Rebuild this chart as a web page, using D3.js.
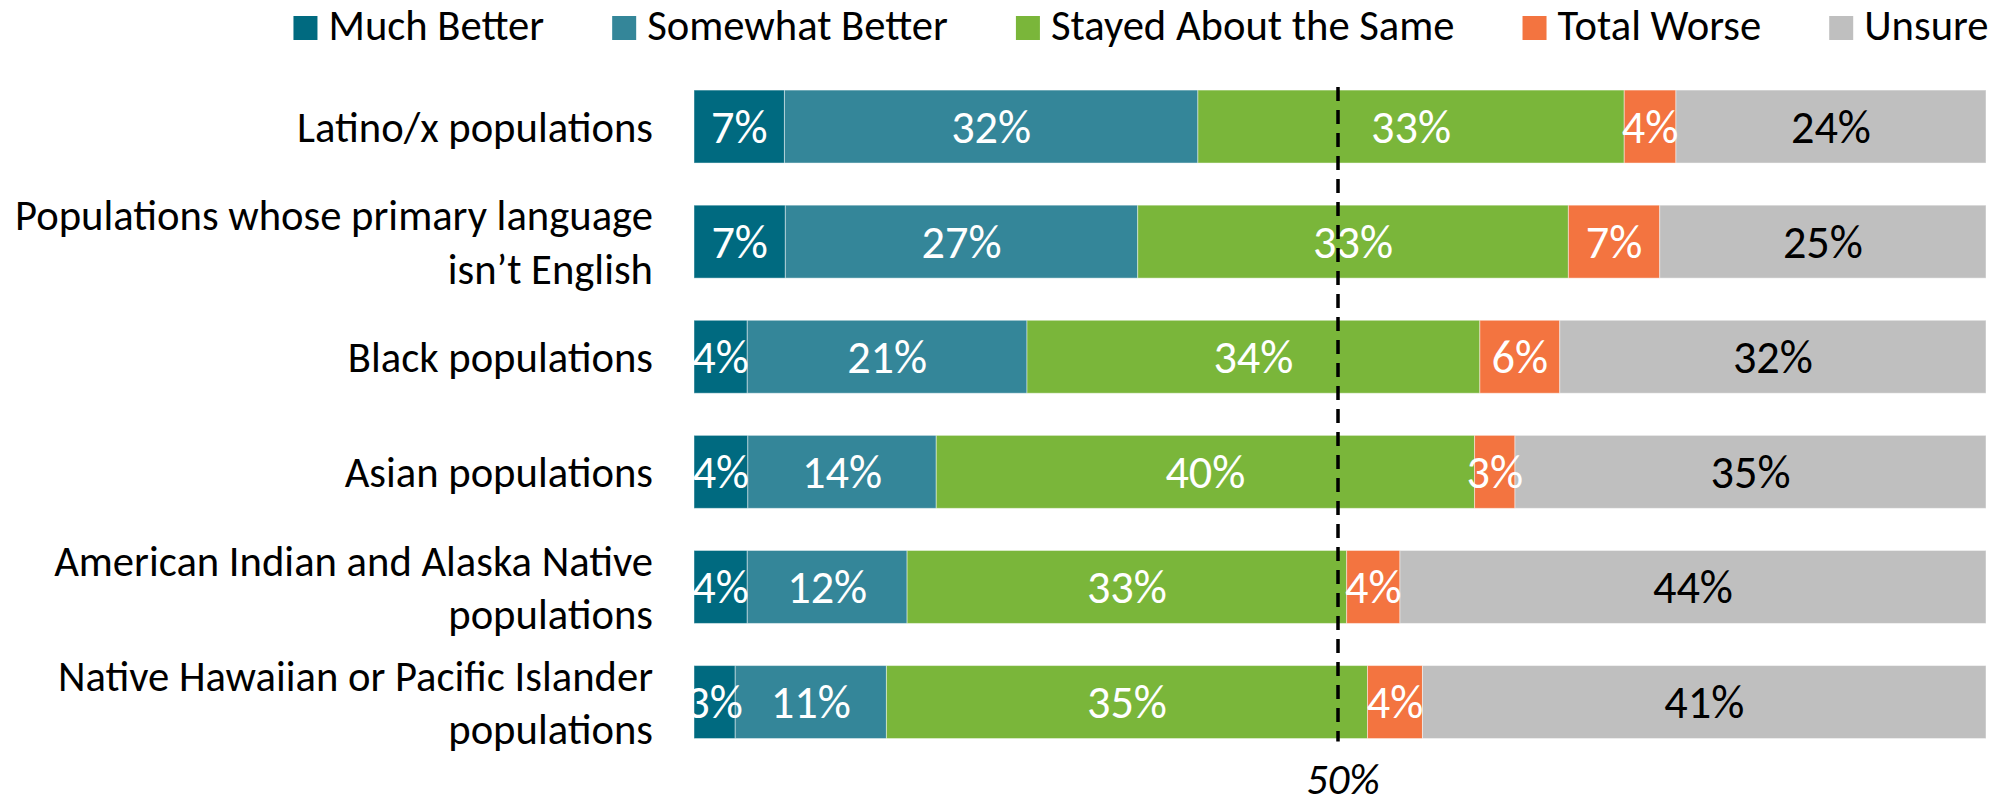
<!DOCTYPE html>
<html>
<head>
<meta charset="utf-8">
<script src="https://cdn.jsdelivr.net/npm/d3@7"></script>
<style>
  body { margin: 0; background: #ffffff; }
  svg { display: block; }
</style>
</head>
<body>
<script>
// chart data
var categories = ["Latino/x populations",
  "Populations whose primary language isn’t English",
  "Black populations",
  "Asian populations",
  "American Indian and Alaska Native populations",
  "Native Hawaiian or Pacific Islander populations"];
// where the long labels wrap
var labelLines = [["Latino/x populations"],
  ["Populations whose primary language", "isn’t English"],
  ["Black populations"],
  ["Asian populations"],
  ["American Indian and Alaska Native", "populations"],
  ["Native Hawaiian or Pacific Islander", "populations"]];

var seriesNames = ["Much Better", "Somewhat Better", "Stayed About the Same", "Total Worse", "Unsure"];
var muchBetter = [7, 7, 4, 4, 4, 3];
var somewhatBetter = [32, 27, 21, 14, 12, 11];
var stayedSame = [33, 33, 34, 40, 33, 35];
var totalWorse = [4, 7, 6, 3, 4, 4];
var unsure = [24, 25, 32, 35, 44, 41];
var refValue = 0.5; // dashed 50% line
var refLabel = "50%";

var colors = ["#006a80", "#348699", "#7ab63a", "#f37440", "#bfbfbf"];
var labelColors = ["#ffffff", "#ffffff", "#ffffff", "#ffffff", "#000000"];

var W = 2003, H = 805;
var svg = d3.select("body").append("svg")
    .attr("width", W)
    .attr("height", H);

var fontFam = "Carlito, Calibri, Lato, 'Open Sans', sans-serif";

// size the fonts so text is about as wide as in the original
var probe = svg.append("text")
    .style("font-family", fontFam)
    .style("font-size", "42px")
    .text("Latino/x populations");
var fs = 42 * 356 / probe.node().getComputedTextLength();
probe.text("32%");
var vfs = 42 * 80 / probe.node().getComputedTextLength(); // value labels are a bit bigger
probe.remove();

// table for the stack
var table = categories.map(function (c, i) {
  return {cat: c, "Much Better": muchBetter[i], "Somewhat Better": somewhatBetter[i],
    "Stayed About the Same": stayedSame[i], "Total Worse": totalWorse[i], "Unsure": unsure[i]};
});

var stacked = d3.stack()
    .keys(seriesNames)
    .offset(d3.stackOffsetExpand)(table);

var x = d3.scaleLinear().domain([0, 1]).range([694, 1986]);
var y = d3.scaleBand()
    .domain(categories)
    .range([69, 759.6])
    .paddingInner(0.366)
    .paddingOuter(0.183);

// bars
var layers = svg.append("g").selectAll("g")
    .data(stacked)
    .join("g")
    .attr("fill", function (d, i) { return colors[i]; });

layers.selectAll("rect")
    .data(function (d) { return d; })
    .join("rect")
    .attr("x", function (d) { return x(d[0]); })
    .attr("y", function (d) { return y(d.data.cat); })
    .attr("width", function (d) { return x(d[1]) - x(d[0]); })
    .attr("height", y.bandwidth())
    .attr("stroke", "#ffffff")
    .attr("stroke-opacity", 0.45)
    .attr("stroke-width", 1);

// value labels (the original numbers, not the expanded ones)
var valueLists = [muchBetter, somewhatBetter, stayedSame, totalWorse, unsure];
stacked.forEach(function (layer, si) {
  svg.append("g").selectAll("text")
      .data(layer)
      .join("text")
      .attr("x", function (d) { return (x(d[0]) + x(d[1])) / 2; })
      .attr("y", function (d) { return y(d.data.cat) + y.bandwidth() / 2; })
      .attr("dy", "0.35em")
      .attr("text-anchor", "middle")
      .style("font-family", fontFam)
      .style("font-size", vfs + "px")
      .style("fill", labelColors[si])
      .text(function (d, i) { return valueLists[si][i] + "%"; });
});

// category labels
var lh = 1.25 * fs;
categories.forEach(function (c, i) {
  var lines = labelLines[i];
  var cy = y(c) + y.bandwidth() / 2;
  var t = svg.append("text")
      .attr("text-anchor", "end")
      .style("font-family", fontFam)
      .style("font-size", fs + "px")
      .style("fill", "#000000");
  lines.forEach(function (ln, k) {
    t.append("tspan")
        .attr("x", 653)
        .attr("y", cy - (lines.length - 1) * lh / 2 + k * lh)
        .attr("dy", "0.36em")
        .text(ln);
  });
});

// dashed reference line at 50%
svg.append("line")
    .attr("x1", x(refValue) - 2)
    .attr("x2", x(refValue) - 2)
    .attr("y1", y(categories[0]) - 3)
    .attr("y2", y(categories[categories.length - 1]) + y.bandwidth() + 3)
    .attr("stroke", "#000000")
    .attr("stroke-width", 3.5)
    .attr("stroke-dasharray", "14,9");

svg.append("text")
    .attr("x", x(refValue) + 3)
    .attr("y", 794)
    .attr("text-anchor", "middle")
    .style("font-family", fontFam)
    .style("font-size", fs + "px")
    .style("font-style", "italic")
    .text(refLabel);

// legend across the top
var legend = svg.append("g");
var lx = 0;
seriesNames.forEach(function (s, i) {
  var item = legend.append("g").attr("transform", "translate(" + lx + ",0)");
  item.append("rect")
      .attr("x", 0)
      .attr("y", 16)
      .attr("width", 24)
      .attr("height", 24)
      .attr("fill", colors[i]);
  var t = item.append("text")
      .attr("x", 35)
      .attr("y", 40)
      .style("font-family", fontFam)
      .style("font-size", fs + "px")
      .text(s);
  lx += 35 + t.node().getComputedTextLength() + 68;
});
var legendW = lx - 68;
legend.attr("transform", "translate(" + (1141 - legendW / 2) + ",0)");
</script>
</body>
</html>
